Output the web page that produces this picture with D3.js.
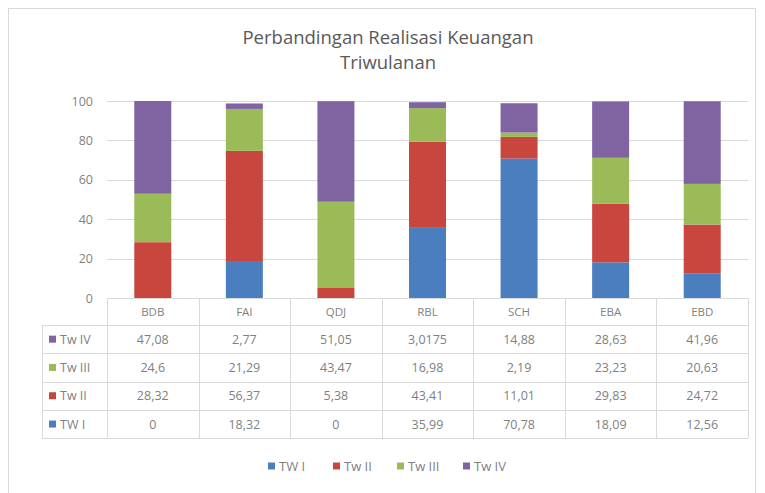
<!DOCTYPE html>
<html>
<head>
<meta charset="utf-8">
<script src="https://cdn.jsdelivr.net/npm/d3@7"></script>
<style>
  body { margin: 0; background: #fff; }
  text { font-family: "Open Sans", sans-serif; fill: #7f7f7f; }
</style>
</head>
<body>
<div id="chart"></div>
<script>
const categories = ["BDB", "FAI", "QDJ", "RBL", "SCH", "EBA", "EBD"];
const seriesNames = ["TW I", "Tw II", "Tw III", "Tw IV"];
const twI   = [0, 18.32, 0, 35.99, 70.78, 18.09, 12.56];
const twII  = [28.32, 56.37, 5.38, 43.41, 11.01, 29.83, 24.72];
const twIII = [24.6, 21.29, 43.47, 16.98, 2.19, 23.23, 20.63];
const twIV  = [47.08, 2.77, 51.05, 3.0175, 14.88, 28.63, 41.96];
const yTicks = [0, 20, 40, 60, 80, 100];
const colors = ["#4a7ebf", "#c9463f", "#9bbb59", "#8064a2"];

const width = 765, height = 493;
const seriesValues = [twI, twII, twIII, twIV];

const svg = d3.select("#chart").append("svg")
    .attr("width", width)
    .attr("height", height);

// chart frame
svg.append("rect")
    .attr("x", 8.5).attr("y", 8.5)
    .attr("width", 747).attr("height", 490)
    .attr("fill", "none")
    .attr("stroke", "#d9d9d9");

// title
svg.append("text")
    .attr("x", 388).attr("y", 44)
    .attr("text-anchor", "middle")
    .style("font-size", "18.5px")
    .style("fill", "#595959")
    .text("Perbandingan Realisasi Keuangan");
svg.append("text")
    .attr("x", 388).attr("y", 69)
    .attr("text-anchor", "middle")
    .style("font-size", "18.5px")
    .style("fill", "#595959")
    .text("Triwulanan");

const x = d3.scaleBand()
    .domain(categories)
    .range([107, 748])
    .paddingInner(0)
    .paddingOuter(0);

const y = d3.scaleLinear()
    .domain([0, 100])
    .range([298, 101]);

// gridlines
svg.append("g")
    .selectAll("line")
    .data(yTicks.filter(d => d > 0))
    .join("line")
    .attr("x1", 107).attr("x2", 748)
    .attr("y1", d => Math.round(y(d)) + 0.5)
    .attr("y2", d => Math.round(y(d)) + 0.5)
    .attr("stroke", "#d9d9d9");

// y axis labels
const yAxis = svg.append("g")
    .attr("transform", "translate(107,0)")
    .call(d3.axisLeft(y).tickValues(yTicks).tickSize(0).tickPadding(14));
yAxis.select(".domain").remove();
yAxis.selectAll("text")
    .style("font-size", "12.5px")
    .style("fill", "#7f7f7f")
    .style("font-family", "'Open Sans', sans-serif");

// stacked bars
const rows = categories.map((c, i) => {
    const r = { cat: c };
    seriesNames.forEach((s, j) => r[s] = seriesValues[j][i]);
    return r;
});
const stack = d3.stack().keys(seriesNames)(rows);
const barW = 37;

svg.append("g")
    .selectAll("g")
    .data(stack)
    .join("g")
    .attr("fill", (d, i) => colors[i])
    .selectAll("rect")
    .data(d => d)
    .join("rect")
    .attr("x", d => x(d.data.cat) + x.bandwidth() / 2 - barW / 2)
    .attr("width", barW)
    .attr("y", d => y(d[1]))
    .attr("height", d => y(d[0]) - y(d[1]));

// data table
const tableTop = 298;
const headerH = 27;
const rowH = 28.3;
const labelLeft = 42;
const tableOrder = [3, 2, 1, 0];
const tableBottom = tableTop + headerH + rowH * tableOrder.length;
const grid = svg.append("g").attr("stroke", "#d9d9d9").attr("fill", "none");

// horizontal lines
grid.append("line")
    .attr("x1", 107).attr("x2", 748)
    .attr("y1", tableTop + 0.5).attr("y2", tableTop + 0.5);
d3.range(tableOrder.length + 1).forEach(k => {
    const yy = Math.round(tableTop + headerH + rowH * k) + 0.5;
    grid.append("line")
        .attr("x1", labelLeft).attr("x2", 748)
        .attr("y1", yy).attr("y2", yy);
});
// vertical lines
grid.append("line")
    .attr("x1", labelLeft + 0.5).attr("x2", labelLeft + 0.5)
    .attr("y1", tableTop + headerH).attr("y2", tableBottom);
categories.concat([null]).forEach((c, i) => {
    const xx = Math.round(c ? x(c) : x.range()[1]) + 0.5;
    grid.append("line")
        .attr("x1", xx).attr("x2", xx)
        .attr("y1", tableTop).attr("y2", tableBottom);
});

// header
svg.append("g")
    .selectAll("text")
    .data(categories)
    .join("text")
    .attr("x", d => x(d) + x.bandwidth() / 2)
    .attr("y", tableTop + headerH / 2 + 4)
    .attr("text-anchor", "middle")
    .style("font-size", "11.5px")
    .text(d => d);

const fmt = v => String(v).replace(".", ",");

tableOrder.forEach((si, k) => {
    const cy = tableTop + headerH + rowH * k + rowH / 2;
    svg.append("rect")
        .attr("x", 49).attr("y", cy - 3.5)
        .attr("width", 7).attr("height", 7)
        .attr("fill", colors[si]);
    svg.append("text")
        .attr("x", 60).attr("y", cy + 4.5)
        .style("font-size", "12.5px")
        .text(seriesNames[si]);
    svg.append("g")
        .selectAll("text")
        .data(seriesValues[si])
        .join("text")
        .attr("x", (d, i) => x(categories[i]) + x.bandwidth() / 2)
        .attr("y", cy + 4.5)
        .attr("text-anchor", "middle")
        .style("font-size", "12.5px")
        .text(d => fmt(d));
});

// legend
const legendX = [268, 333, 397, 463];
const legend = svg.append("g")
    .selectAll("g")
    .data(seriesNames)
    .join("g")
    .attr("transform", (d, i) => `translate(${legendX[i]},466)`);
legend.append("rect")
    .attr("x", 0).attr("y", -3.5)
    .attr("width", 7).attr("height", 7)
    .attr("fill", (d, i) => colors[i]);
legend.append("text")
    .attr("x", 11).attr("y", 4.5)
    .style("font-size", "13px")
    .text(d => d);
</script>
</body>
</html>
